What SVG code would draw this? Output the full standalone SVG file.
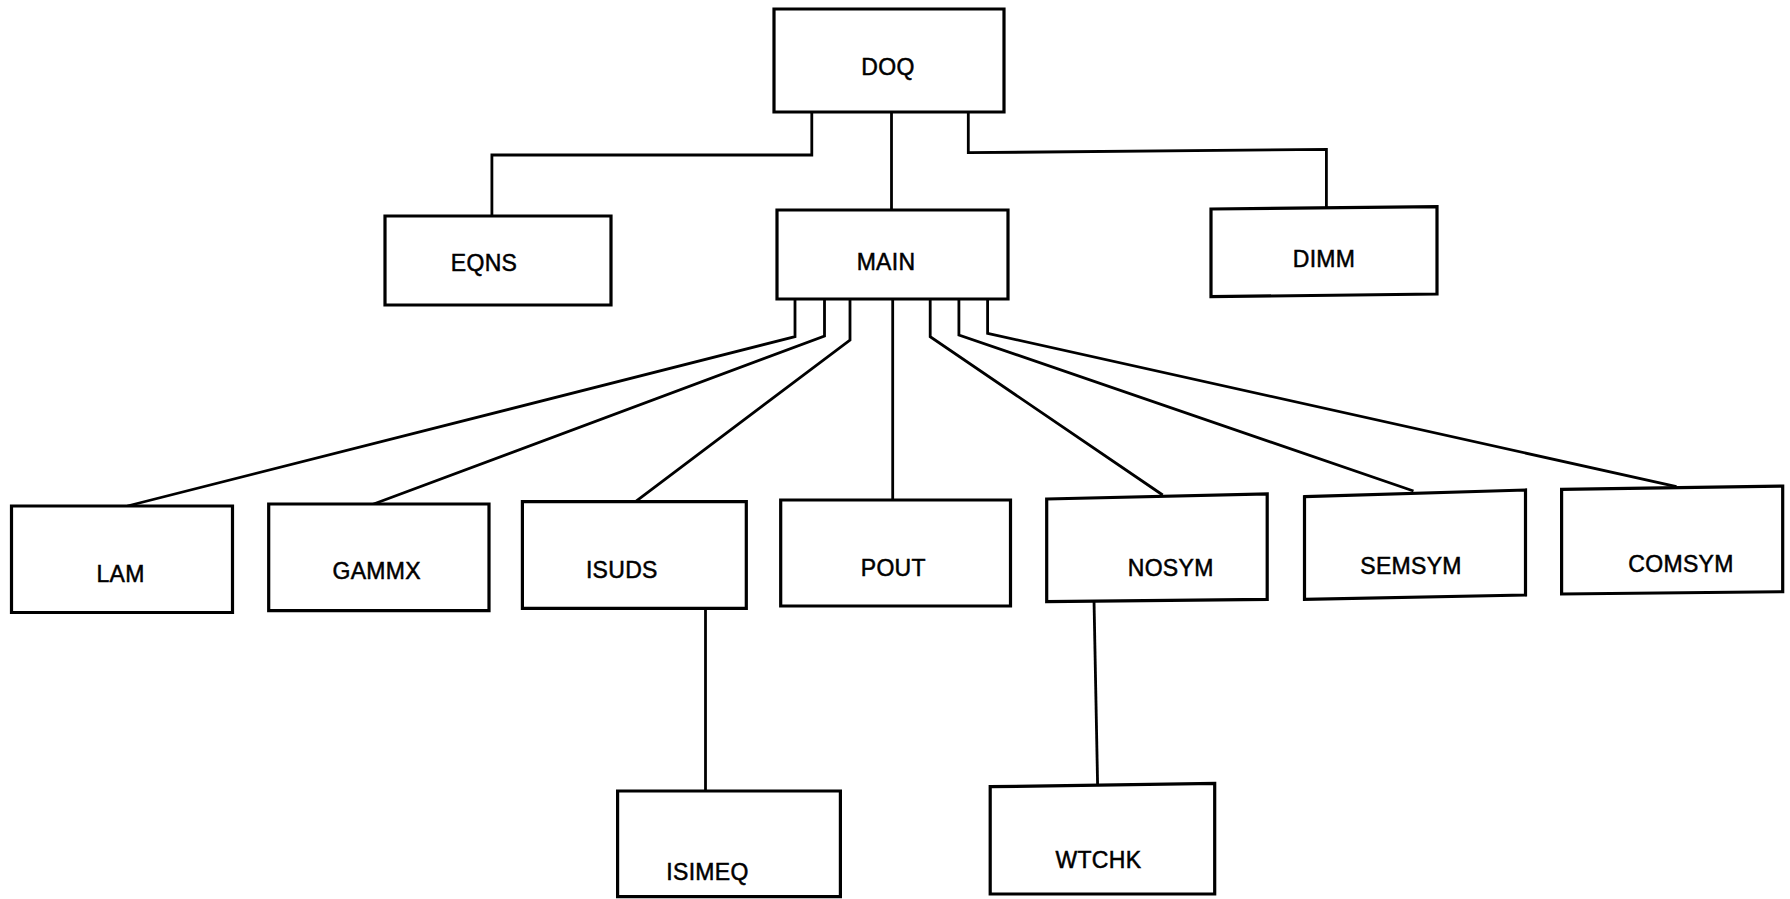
<svg xmlns="http://www.w3.org/2000/svg" width="1790" height="899" viewBox="0 0 1790 899">
<style>
.box{fill:#fff;stroke:#000;stroke-width:3.2;stroke-linejoin:miter}
.lbl{font-family:"Liberation Sans",Arial,sans-serif;font-size:23px;letter-spacing:0.3px;text-anchor:middle;fill:#000;stroke:#000;stroke-width:0.5}
.conn path{fill:none;stroke:#000;stroke-width:2.8}
</style>
<rect width="1790" height="899" fill="#fff"/>
<g id="connectors" class="conn">
<path d="M811.8 112 V155 H491.9 V216"/>
<path d="M891.5 112 V210"/>
<path d="M968.3 112 V152.7 L1326.4 149.3 V207"/>
<path d="M795 299 V336.7 L127.4 506"/>
<path d="M824.5 299 V336 L373 504.3"/>
<path d="M850 299 V340 L635.5 501.7"/>
<path d="M892.7 299 V500"/>
<path d="M930.2 299 V336.7 L1162.7 495"/>
<path d="M958.9 299 V335 L1413.5 491"/>
<path d="M987.6 299 V333.3 L1676.5 486.7"/>
<path d="M705.5 608 V791"/>
<path d="M1094 600 L1097.6 785"/>
</g>
<g id="DOQ"><path class="box" d="M774 9 H1004 V112 H774 Z"/><text class="lbl" x="888" y="74.5">DOQ</text></g>
<g id="EQNS"><path class="box" d="M385 216 H611 V305 H385 Z"/><text class="lbl" x="484" y="271">EQNS</text></g>
<g id="MAIN"><path class="box" d="M777 210 H1008 V299 H777 Z"/><text class="lbl" x="886" y="269.5">MAIN</text></g>
<g id="DIMM"><path class="box" d="M1211 209 L1437 206.7 L1437 294 L1211 296.7 Z"/><text class="lbl" x="1324" y="267">DIMM</text></g>
<g id="LAM"><path class="box" d="M11.5 506 H232.5 V612.5 H11.5 Z"/><text class="lbl" x="120.6" y="581.5">LAM</text></g>
<g id="GAMMX"><path class="box" d="M268.7 504 H489 V610.7 H268.7 Z"/><text class="lbl" x="376.7" y="579.3">GAMMX</text></g>
<g id="ISUDS"><path class="box" d="M522.4 501.7 H746.3 V608.3 H522.4 Z"/><text class="lbl" x="621.8" y="578.3">ISUDS</text></g>
<g id="POUT"><path class="box" d="M780.7 500 H1010.5 V606 H780.7 Z"/><text class="lbl" x="893.3" y="576">POUT</text></g>
<g id="NOSYM"><path class="box" d="M1046.7 499 L1267.2 494 L1267.2 599.3 L1046.7 601.7 Z"/><text class="lbl" x="1170.7" y="576">NOSYM</text></g>
<g id="SEMSYM"><path class="box" d="M1304.5 496.7 L1525.5 490 L1525.5 595 L1304.5 599.3 Z"/><text class="lbl" x="1411" y="574">SEMSYM</text></g>
<g id="COMSYM"><path class="box" d="M1561.6 489.3 L1782.7 486 L1782.7 591.7 L1561.6 594 Z"/><text class="lbl" x="1681" y="571.7">COMSYM</text></g>
<g id="ISIMEQ"><path class="box" d="M617.6 791 H840.4 V896.7 H617.6 Z"/><text class="lbl" x="707.5" y="880">ISIMEQ</text></g>
<g id="WTCHK"><path class="box" d="M990.2 786.7 L1214.7 783.3 L1214.7 894 L990.2 894 Z"/><text class="lbl" x="1098.4" y="867.7">WTCHK</text></g>
</svg>
